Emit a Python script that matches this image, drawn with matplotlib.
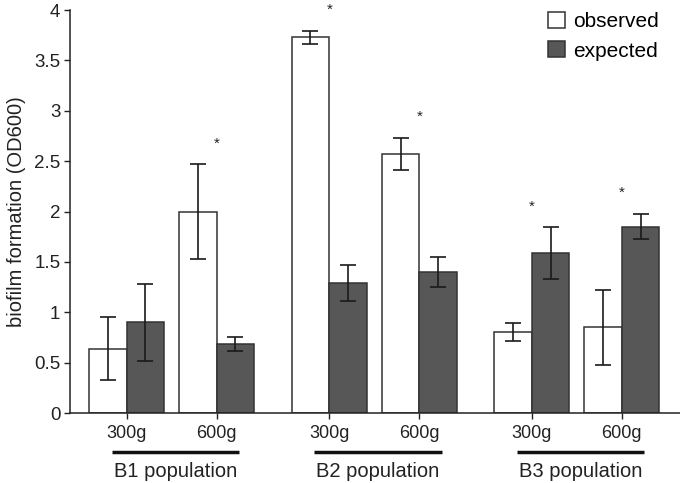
import matplotlib
matplotlib.use('Agg')
import matplotlib.pyplot as plt
import matplotlib.transforms as mtransforms

plt.rcParams['font.family'] = ['Liberation Sans', 'DejaVu Sans']

groups = ['B1 population', 'B2 population', 'B3 population']
conditions = ['300g', '600g']

# one value per (group, condition), in order B1-300g, B1-600g, B2-300g, ...
observed = [0.64, 2.00, 3.73, 2.57, 0.80, 0.85]
observed_err = [0.31, 0.47, 0.065, 0.16, 0.09, 0.37]
expected = [0.90, 0.685, 1.29, 1.40, 1.59, 1.85]
expected_err = [0.38, 0.065, 0.175, 0.145, 0.26, 0.125]
star_y = [None, 2.67, 4.0, 2.94, 2.05, 2.19]

group_step = 5.4
cond_step = 2.4
width = 1.0

x = []
tick_labels = []
for g in range(len(groups)):
    for c in range(len(conditions)):
        x.append(g * group_step + c * cond_step)
        tick_labels.append(conditions[c])

fig = plt.figure(figsize=(6.8, 4.83), dpi=100)
ax = fig.add_axes([70 / 680, 1 - 413 / 483, 1 - 70 / 680, 403 / 483])

edge = '#333333'
err_kw = dict(ecolor='#1a1a1a', elinewidth=1.2, capsize=5.5, capthick=1.2)
b1 = ax.bar([xi - width / 2 for xi in x], observed, width, yerr=observed_err,
            color='white', edgecolor=edge, linewidth=1.1, error_kw=err_kw,
            label='observed')
b2 = ax.bar([xi + width / 2 for xi in x], expected, width, yerr=expected_err,
            color='#575757', edgecolor=edge, linewidth=1.1, error_kw=err_kw,
            label='expected')

for xi, sy in zip(x, star_y):
    if sy is not None:
        ax.text(xi, sy, '*', ha='center', va='center', fontsize=11,
                color='#222222', clip_on=False)

ax.set_xlim(-1.51, 14.75)
ax.set_ylim(0, 4)
ax.set_yticks([0, 0.5, 1, 1.5, 2, 2.5, 3, 3.5, 4])
ax.set_yticklabels(['0', '0.5', '1', '1.5', '2', '2.5', '3', '3.5', '4'])
ax.set_xticks(x)
ax.set_xticklabels(tick_labels, fontsize=13)
ax.tick_params(axis='y', labelsize=13.5, length=4, width=1, pad=3,
               colors='#222222')
ax.tick_params(axis='x', length=4, width=1, pad=5, colors='#222222')

for s in ['top', 'right']:
    ax.spines[s].set_visible(False)
for s in ['left', 'bottom']:
    ax.spines[s].set_linewidth(1.1)
    ax.spines[s].set_color('#222222')

ax.set_ylabel('biofilm formation (OD600)', fontsize=14.5, color='#222222',
              labelpad=6)

# group lines and labels under the tick labels
trans = mtransforms.blended_transform_factory(ax.transData, ax.transAxes)
for g, name in enumerate(groups):
    gc = g * group_step + cond_step / 2 + 0.1
    ax.plot([gc - 1.7, gc + 1.7], [-0.096, -0.096], color='#111111',
            linewidth=2.5, transform=trans, clip_on=False, solid_capstyle='butt')
    ax.text(gc, -0.145, name, transform=trans, ha='center', va='center',
            fontsize=14.5, color='#222222')

ax.legend(handles=[b1, b2], loc='upper left', bbox_to_anchor=(548 / 680, 0.975),
          bbox_transform=fig.transFigure, frameon=False, fontsize=15,
          handlelength=0.82, handleheight=0.82, handletextpad=0.4,
          labelspacing=0.47, borderpad=0, borderaxespad=0)

fig.savefig('out.png', dpi=100)
